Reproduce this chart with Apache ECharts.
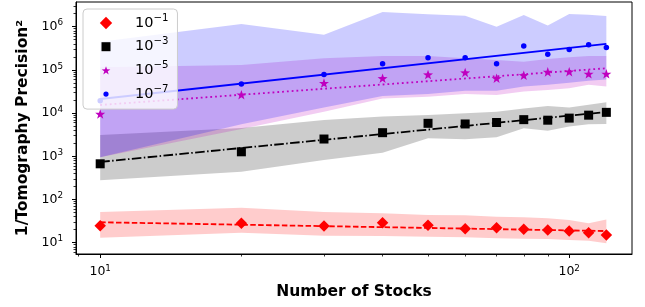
<!DOCTYPE html>
<html>
<head>
<meta charset="utf-8">
<script src="https://cdn.jsdelivr.net/npm/echarts@6/dist/echarts.min.js"></script>
<style>
  html, body { margin: 0; padding: 0; background: #fff; }
  #chart { width: 645px; height: 307px; }
</style>
</head>
<body>
<div id="chart"></div>
<script>
// --- data (log-log) ---
const stocks = [10, 20, 30, 40, 50, 60, 70, 80, 90, 100, 110, 120];
const tolLabels = ['-1', '-3', '-5', '-7'];

// tolerance 1e-1
const redPts = [24.6, 28, 24.4, 29, 25.3, 21.1, 22.2, 20.4, 19.7, 18.6, 17, 15.1];
const redLo = [13, 17, 14.5, 14.3, 13.8, 13.3, 12.6, 12.4, 12.2, 11.5, 11.1, 9.7];
const redHi = [51, 64, 51, 48, 44, 43, 40, 39, 37, 33.5, 28, 34.5];
const redFit = [[10, 29.7], [120, 18.6]];

// tolerance 1e-3
const blackPts = [670, 1270, 2510, 3520, 5800, 5600, 6050, 7050, 6850, 7650, 8950, 10400];
const blackLo = [280, 440, 820, 1200, 2600, 2470, 2750, 4460, 3900, 4900, 5500, 5600];
const blackHi = [3100, 4500, 6900, 8300, 9000, 9900, 10800, 12800, 14500, 13500, 15500, 17800];
const blackFit = [[10, 740], [120, 10600]];

// tolerance 1e-5
const magPts = [9530, 26700, 49500, 64000, 78000, 87000, 64000, 75000, 90000, 91000, 81000, 81000];
const magLo = [950, 4300, 10800, 21700, 24000, 27700, 26300, 31500, 34300, 37500, 45000, 41000];
const magHi = [115000, 129000, 186000, 210000, 210000, 186000, 170000, 155000, 178000, 196000, 210000, 210000];
const magFit = [[10, 15400], [120, 109000]];

// tolerance 1e-7
const bluePts = [19200, 47200, 78000, 138000, 190000, 190000, 139000, 357000, 229000, 297000, 383000, 328000];
const blueLo = [950, 5500, 13500, 25000, 27700, 33000, 33000, 41000, 45000, 50700, 56000, 60000];
const blueHi = [450000, 1160000, 650000, 2200000, 1950000, 1800000, 1000000, 1860000, 1070000, 1960000, 1900000, 1780000];
const blueFit = [[10, 21200], [120, 398000]];

// axis ticks
const xMajor = [10, 100];
const xMinor = [9, 20, 30, 40, 50, 60, 70, 80, 90];
const yMajor = [10, 100, 1e3, 1e4, 1e5, 1e6];
const yMinor = [];
[1, 10, 100, 1e3, 1e4, 1e5, 1e6].forEach(d => {
    for (let k = 2; k <= 9; k++) yMinor.push(k * d);
});

const FONT = "'DejaVu Sans', sans-serif";

function starPath(cx, cy, R, r) {
    let d = '';
    for (let k = 0; k < 10; k++) {
        const rad = k % 2 ? r : R;
        const a = -Math.PI / 2 + k * Math.PI / 5;
        d += (k ? 'L' : 'M') + (cx + rad * Math.cos(a)).toFixed(2) + ',' + (cy + rad * Math.sin(a)).toFixed(2);
    }
    return d + 'Z';
}

// legend icons padded into a 20x20 box so they keep their relative sizes
const PAD = 'path://M0,0M20,20';
const legendIcons = [
    PAD + 'M10,3.8L16.2,10L10,16.2L3.8,10Z',
    PAD + 'M5.5,5.5L14.5,5.5L14.5,14.5L5.5,14.5Z',
    PAD + starPath(10, 10.4, 4.6, 1.8),
    PAD + 'M10,7.4A2.6,2.6 0 1,1 10,12.6A2.6,2.6 0 1,1 10,7.4Z'
];

const names = tolLabels.map(e => '10^' + e);

function band(lo, hi, color) {
    return {
        type: 'custom',
        silent: true,
        clip: true,
        z: 1,
        encode: { x: 0, y: [1, 2] },
        data: stocks.map((x, i) => [x, lo[i], hi[i]]),
        renderItem: function (params, api) {
            if (params.dataIndex !== 0) return;
            const top = stocks.map((x, i) => api.coord([x, hi[i]]));
            const bottom = stocks.map((x, i) => api.coord([x, lo[i]])).reverse();
            return {
                type: 'polygon',
                shape: { points: top.concat(bottom) },
                style: { fill: color, stroke: null }
            };
        }
    };
}

function fit(data, color, dash) {
    return {
        type: 'line',
        data: data,
        showSymbol: false,
        silent: true,
        z: 2,
        lineStyle: { color: color, width: 1.8, type: dash }
    };
}

function points(name, data, color, symbol, size) {
    return {
        name: name,
        type: 'scatter',
        data: stocks.map((x, i) => [x, data[i]]),
        symbol: symbol,
        symbolSize: size,
        symbolKeepAspect: true,
        itemStyle: { color: color, opacity: 1 },
        z: 3
    };
}

function expLabel(v) {
    return '{b|10}{s|' + Math.round(Math.log10(v)) + '}';
}

const chart = echarts.init(document.getElementById('chart'), null, { renderer: 'canvas' });

chart.setOption({
    animation: false,
    backgroundColor: '#fff',
    grid: {
        left: 76, right: 13, top: 2, bottom: 53,
        show: true, borderColor: '#000', borderWidth: 1,
        outerBoundsMode: 'none'
    },
    xAxis: [{
        type: 'log', logBase: 10, min: 8.88, max: 136.1,
        name: 'Number of Stocks', nameLocation: 'middle', nameGap: 30,
        nameTextStyle: { fontFamily: FONT, fontWeight: 'bold', fontSize: 15.5, color: '#000' },
        axisLine: { show: true, lineStyle: { color: '#000', width: 1 } },
        axisTick: { show: true, customValues: xMajor, length: 4, lineStyle: { color: '#000', width: 1 } },
        axisLabel: {
            customValues: xMajor, margin: 10, formatter: expLabel,
            rich: {
                b: { fontFamily: FONT, fontSize: 12.5, lineHeight: 16, color: '#000' },
                s: { fontFamily: FONT, fontSize: 8.8, lineHeight: 8, verticalAlign: 'top', color: '#000' }
            }
        },
        splitLine: { show: false }
    }, {
        type: 'log', logBase: 10, min: 8.88, max: 136.1, position: 'bottom',
        axisLine: { show: false },
        axisTick: { show: true, customValues: xMinor, length: 2.5, lineStyle: { color: '#000', width: 0.8 } },
        axisLabel: { show: false },
        splitLine: { show: false }
    }],
    yAxis: [{
        type: 'log', logBase: 10, min: 5.47, max: 3.73e6,
        name: '1/Tomography Precision²', nameLocation: 'middle', nameGap: 45,
        nameTextStyle: { fontFamily: FONT, fontWeight: 'bold', fontSize: 15.5, color: '#000' },
        axisLine: { show: true, lineStyle: { color: '#000', width: 1 } },
        axisTick: { show: true, customValues: yMajor, length: 4, lineStyle: { color: '#000', width: 1 } },
        axisLabel: {
            customValues: yMajor, margin: 13, formatter: expLabel,
            rich: {
                b: { fontFamily: FONT, fontSize: 12.5, lineHeight: 16, color: '#000' },
                s: { fontFamily: FONT, fontSize: 8.8, lineHeight: 8, verticalAlign: 'top', color: '#000' }
            }
        },
        splitLine: { show: false }
    }, {
        type: 'log', logBase: 10, min: 5.47, max: 3.73e6, position: 'left',
        axisLine: { show: false },
        axisTick: { show: true, customValues: yMinor, length: 2.5, lineStyle: { color: '#000', width: 0.8 } },
        axisLabel: { show: false },
        splitLine: { show: false }
    }],
    legend: {
        z: 20,
        data: names.map((n, i) => ({ name: n, icon: legendIcons[i] })),
        orient: 'vertical', left: 83, top: 9,
        itemWidth: 20, itemHeight: 20, itemGap: 3.7,
        padding: [4, 9, 5, 13],
        backgroundColor: 'rgba(255,255,255,0.8)',
        borderColor: '#cccccc', borderWidth: 1, borderRadius: 4,
        selectedMode: false,
        formatter: n => '{b|10}{s|' + n.split('^')[1].replace('-', '\u2212') + '}',
        textStyle: {
            rich: {
                b: { fontFamily: FONT, fontSize: 14.5, lineHeight: 20, color: '#000', padding: [0, 0, 0, 14] },
                s: { fontFamily: FONT, fontSize: 10.2, lineHeight: 7, verticalAlign: 'top', color: '#000' }
            }
        }
    },
    series: [
        band(redLo, redHi, 'rgba(255,0,0,0.2)'),
        band(blackLo, blackHi, 'rgba(0,0,0,0.2)'),
        band(magLo, magHi, 'rgba(191,0,191,0.2)'),
        band(blueLo, blueHi, 'rgba(0,0,255,0.2)'),
        fit(redFit, '#ff0000', [5.5, 2.4]),
        fit(blackFit, '#000000', [9.6, 2.4, 1.5, 2.4]),
        fit(magFit, '#bf00bf', [1.8, 3]),
        fit(blueFit, '#0000ff', 'solid'),
        points(names[0], redPts, '#ff0000', 'diamond', 11.5),
        points(names[1], blackPts, '#000000', 'rect', 9),
        points(names[2], magPts, '#bf00bf', 'path://' + starPath(10, 10, 10, 4), 10),
        points(names[3], bluePts, '#0000ff', 'circle', 5.5)
    ]
});
</script>
</body>
</html>
